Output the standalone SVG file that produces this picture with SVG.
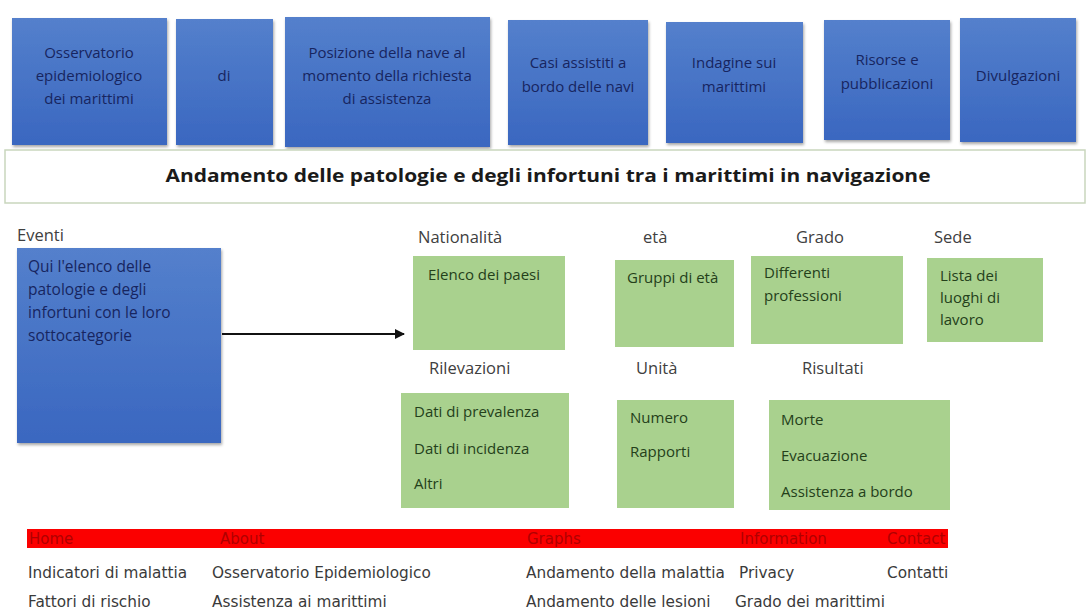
<svg xmlns="http://www.w3.org/2000/svg" width="1092" height="613" viewBox="0 0 1092 613">
<defs>
<linearGradient id="blueG" x1="0" y1="0" x2="0" y2="1">
<stop offset="0" stop-color="#5480cc"/>
<stop offset="1" stop-color="#3a67c0"/>
</linearGradient>
<filter id="sh" x="-10%" y="-10%" width="125%" height="125%">
<feGaussianBlur in="SourceAlpha" stdDeviation="1.5"/>
<feOffset dx="1" dy="2" result="b"/>
<feFlood flood-color="#000" flood-opacity="0.35"/>
<feComposite in2="b" operator="in"/>
<feMerge><feMergeNode/><feMergeNode in="SourceGraphic"/></feMerge>
</filter>
<marker id="arr" viewBox="0 0 10 10" refX="9" refY="5" markerWidth="5" markerHeight="5" orient="auto">
<path d="M0,0 L10,5 L0,10 z" fill="#111"/>
</marker>
<style>
.blue{fill:url(#blueG);filter:url(#sh)}
.green{fill:#a9d18e}
.bt{font-family:"Open Sans","Liberation Sans",sans-serif;font-size:15px;fill:#172560;text-anchor:middle}
.gt{font-family:"Open Sans","Liberation Sans",sans-serif;font-size:15px;fill:#24401a}
.lab{font-family:"Open Sans","Liberation Sans",sans-serif;font-size:16.5px;fill:#404040}
.nav{font-family:"DejaVu Sans","Liberation Sans",sans-serif;font-size:15px;fill:#b00000}
.bot{font-family:"DejaVu Sans","Liberation Sans",sans-serif;font-size:15.3px;fill:#3a3a3a}
.et{font-family:"Open Sans","Liberation Sans",sans-serif;font-size:15.5px;fill:#172560}
</style>
</defs>
<rect width="1092" height="613" fill="#fff"/>

<g id="top1"><rect class="blue" x="12" y="18" width="155" height="127"/>
<text class="bt" x="89" y="58">Osservatorio</text><text class="bt" x="89" y="81">epidemiologico</text><text class="bt" x="89" y="104">dei marittimi</text></g>
<g id="top2"><rect class="blue" x="176" y="19" width="97" height="126"/>
<text class="bt" x="224" y="81">di</text></g>
<g id="top3"><rect class="blue" x="285" y="17" width="205" height="130"/>
<text class="bt" x="387" y="58">Posizione della nave al</text><text class="bt" x="387" y="81">momento della richiesta</text><text class="bt" x="387" y="104">di assistenza</text></g>
<g id="top4"><rect class="blue" x="508" y="20" width="140" height="125"/>
<text class="bt" x="578" y="68">Casi assistiti a</text><text class="bt" x="578" y="92">bordo delle navi</text></g>
<g id="top5"><rect class="blue" x="666" y="22" width="137" height="121"/>
<text class="bt" x="734" y="68">Indagine sui</text><text class="bt" x="734" y="92">marittimi</text></g>
<g id="top6"><rect class="blue" x="824" y="20" width="126" height="120"/>
<text class="bt" x="887" y="65">Risorse e</text><text class="bt" x="887" y="89">pubblicazioni</text></g>
<g id="top7"><rect class="blue" x="960" y="18" width="116" height="124"/>
<text class="bt" x="1018" y="81">Divulgazioni</text></g>

<g id="title"><rect x="5" y="150" width="1080" height="53" fill="#fff" stroke="#c9d6bd" stroke-width="1.5"/>
<text x="548" y="182" font-family="'Open Sans','Liberation Sans',sans-serif" font-size="17" font-weight="bold" fill="#1a1a1a" text-anchor="middle" textLength="765" lengthAdjust="spacingAndGlyphs">Andamento delle patologie e degli infortuni tra i marittimi in navigazione</text></g>

<g id="eventi"><text class="lab" x="17" y="241">Eventi</text>
<rect class="blue" x="17" y="248" width="204" height="195"/>
<text class="et" x="28" y="272">Qui l'elenco delle</text><text class="et" x="28" y="295">patologie e degli</text><text class="et" x="28" y="318">infortuni con le loro</text><text class="et" x="28" y="341">sottocategorie</text></g>

<g id="connectors"><line x1="222" y1="334" x2="404" y2="334" stroke="#111" stroke-width="2" marker-end="url(#arr)"/></g>

<g id="nazionalita"><text class="lab" x="418" y="243">Nationalità</text>
<rect class="green" x="413" y="256" width="152" height="94"/>
<text class="gt" x="428" y="280">Elenco dei paesi</text></g>
<g id="eta"><text class="lab" x="643" y="243">età</text>
<rect class="green" x="615" y="260" width="119" height="87"/>
<text class="gt" x="627" y="283">Gruppi di età</text></g>
<g id="grado"><text class="lab" x="796" y="243">Grado</text>
<rect class="green" x="751" y="256" width="152" height="88"/>
<text class="gt" x="764" y="278">Differenti</text><text class="gt" x="764" y="301">professioni</text></g>
<g id="sede"><text class="lab" x="934" y="243">Sede</text>
<rect class="green" x="927" y="258" width="116" height="84"/>
<text class="gt" x="940" y="281">Lista dei</text><text class="gt" x="940" y="303">luoghi di</text><text class="gt" x="940" y="325">lavoro</text></g>

<g id="rilevazioni"><text class="lab" x="429" y="374">Rilevazioni</text>
<rect class="green" x="401" y="393" width="168" height="115"/>
<text class="gt" x="414" y="417">Dati di prevalenza</text><text class="gt" x="414" y="454">Dati di incidenza</text><text class="gt" x="414" y="489">Altri</text></g>
<g id="unita"><text class="lab" x="636" y="374">Unità</text>
<rect class="green" x="617" y="400" width="117" height="108"/>
<text class="gt" x="630" y="423">Numero</text><text class="gt" x="630" y="457">Rapporti</text></g>
<g id="risultati"><text class="lab" x="802" y="374">Risultati</text>
<rect class="green" x="769" y="400" width="181" height="110"/>
<text class="gt" x="781" y="425">Morte</text><text class="gt" x="781" y="461">Evacuazione</text><text class="gt" x="781" y="497">Assistenza a bordo</text></g>

<g id="navbar"><rect x="27" y="529" width="921" height="19" fill="#fb0000"/>
<text class="nav" x="29" y="544">Home</text><text class="nav" x="220" y="544">About</text><text class="nav" x="527" y="544">Graphs</text><text class="nav" x="740" y="544">Information</text><text class="nav" x="887" y="544">Contact</text></g>

<g id="links">
<text class="bot" x="28" y="578">Indicatori di malattia</text>
<text class="bot" x="212" y="578">Osservatorio Epidemiologico</text>
<text class="bot" x="526" y="578">Andamento della malattia</text>
<text class="bot" x="739" y="578">Privacy</text>
<text class="bot" x="887" y="578">Contatti</text>
<text class="bot" x="28" y="607">Fattori di rischio</text>
<text class="bot" x="212" y="607">Assistenza ai marittimi</text>
<text class="bot" x="526" y="607">Andamento delle lesioni</text>
<text class="bot" x="735" y="607">Grado dei marittimi</text>
</g>
</svg>
